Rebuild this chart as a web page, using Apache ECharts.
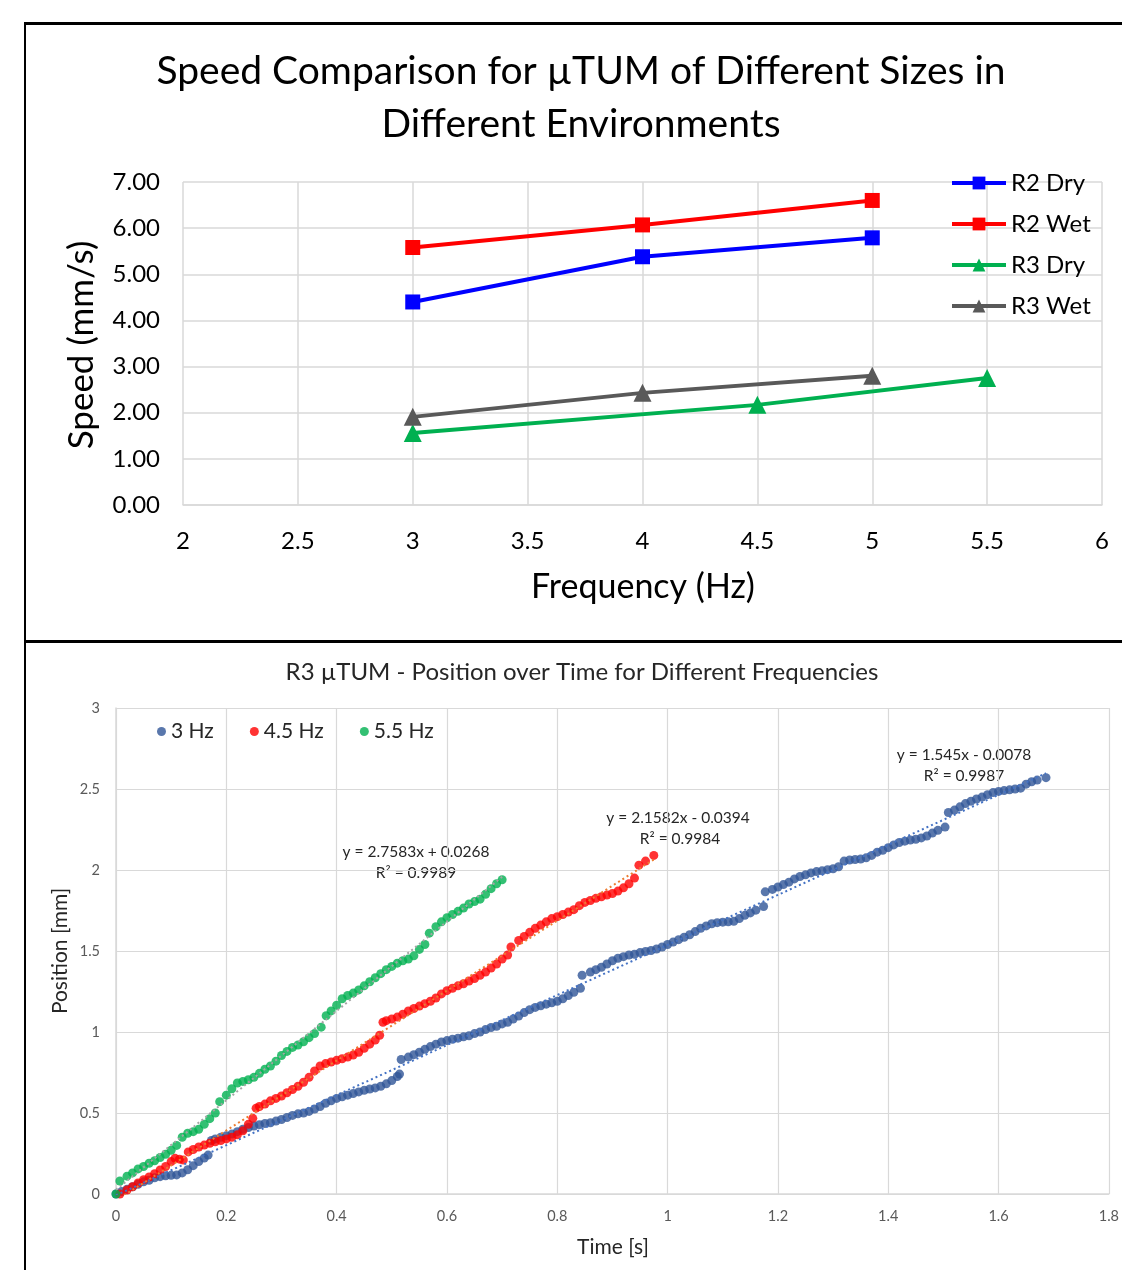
<!DOCTYPE html>
<html><head><meta charset="utf-8">
<script src="https://cdn.jsdelivr.net/npm/echarts@6/dist/echarts.min.js"></script>
<style>html,body{margin:0;padding:0;background:#fff}#c{width:1122px;height:1270px}</style>
</head><body><div id="c"></div><script>
// ---------- Top chart data ----------
const topTitle = 'Speed Comparison for µTUM of Different Sizes in\nDifferent Environments';
const topXName = 'Frequency (Hz)';
const topYName = 'Speed (mm/s)';
const r2Dry = [[3, 4.40], [4, 5.38], [5, 5.79]];
const r2Wet = [[3, 5.58], [4, 6.07], [5, 6.60]];
const r3Dry = [[3, 1.56], [4.5, 2.17], [5.5, 2.75]];
const r3Wet = [[3, 1.91], [4, 2.43], [5, 2.80]];
const topSeriesNames = ['R2 Dry', 'R2 Wet', 'R3 Dry', 'R3 Wet'];

// ---------- Bottom chart data ----------
const botTitle = 'R3 µTUM - Position over Time for Different Frequencies';
const botXName = 'Time [s]';
const botYName = 'Position [mm]';
const botSeriesNames = ['3 Hz', '4.5 Hz', '5.5 Hz'];
const hz3 = [
[0.00,0.00],[0.01,0.015],[0.02,0.03],[0.03,0.045],[0.04,0.06],[0.05,0.075],[0.06,0.085],[0.07,0.10],[0.08,0.107],[0.09,0.112],
[0.10,0.115],[0.11,0.118],[0.12,0.13],[0.13,0.15],[0.14,0.175],[0.15,0.20],[0.16,0.222],[0.167,0.24],
[0.173,0.33],[0.18,0.34],[0.19,0.35],[0.20,0.36],[0.21,0.37],[0.22,0.385],[0.23,0.40],[0.24,0.41],[0.25,0.42],[0.26,0.428],
[0.27,0.435],[0.28,0.44],[0.29,0.45],[0.30,0.46],[0.31,0.472],[0.32,0.485],[0.33,0.495],[0.34,0.50],[0.35,0.51],[0.36,0.525],
[0.37,0.54],[0.38,0.56],[0.39,0.575],[0.40,0.59],[0.41,0.60],[0.42,0.61],[0.43,0.62],[0.44,0.63],[0.45,0.64],[0.46,0.648],
[0.47,0.655],[0.48,0.665],[0.49,0.68],[0.50,0.70],[0.51,0.725],[0.514,0.74],
[0.517,0.83],[0.53,0.845],[0.54,0.86],[0.55,0.875],[0.56,0.893],[0.57,0.91],[0.58,0.925],[0.59,0.938],[0.60,0.947],[0.61,0.955],
[0.62,0.962],[0.63,0.97],[0.64,0.977],[0.65,0.99],[0.66,1.00],[0.67,1.015],[0.68,1.028],[0.69,1.035],[0.70,1.05],[0.71,1.06],
[0.72,1.08],[0.73,1.098],[0.74,1.12],[0.75,1.138],[0.76,1.152],[0.77,1.162],[0.78,1.172],[0.79,1.18],[0.80,1.19],[0.81,1.205],
[0.82,1.225],[0.83,1.245],[0.842,1.27],
[0.845,1.35],[0.86,1.37],[0.87,1.385],[0.88,1.40],[0.89,1.42],[0.90,1.44],[0.91,1.455],[0.92,1.465],[0.93,1.475],[0.94,1.48],
[0.95,1.49],[0.96,1.497],[0.97,1.503],[0.98,1.512],[0.99,1.525],[1.00,1.54],[1.01,1.555],[1.02,1.57],[1.03,1.585],[1.04,1.60],
[1.05,1.62],[1.06,1.64],[1.07,1.655],[1.08,1.668],[1.09,1.675],[1.10,1.678],[1.11,1.68],[1.12,1.683],[1.13,1.70],[1.14,1.72],
[1.15,1.735],[1.16,1.752],[1.174,1.775],
[1.177,1.865],[1.19,1.88],[1.20,1.895],[1.21,1.91],[1.22,1.925],[1.23,1.945],[1.24,1.96],[1.25,1.97],[1.26,1.982],[1.27,1.99],
[1.28,1.995],[1.29,2.002],[1.30,2.008],[1.31,2.02],[1.32,2.055],[1.33,2.062],[1.34,2.065],[1.35,2.068],[1.36,2.075],[1.37,2.09],
[1.38,2.11],[1.39,2.122],[1.40,2.138],[1.41,2.155],[1.42,2.17],[1.43,2.178],[1.44,2.185],[1.45,2.19],[1.46,2.198],[1.47,2.21],
[1.48,2.228],[1.49,2.245],[1.503,2.265],
[1.509,2.355],[1.52,2.37],[1.53,2.39],[1.54,2.41],[1.55,2.425],[1.56,2.438],[1.57,2.45],[1.58,2.465],[1.59,2.478],[1.60,2.485],
[1.61,2.49],[1.62,2.495],[1.63,2.50],[1.64,2.505],[1.65,2.53],[1.66,2.545],[1.67,2.555],[1.686,2.57]
];
const hz45 = [
[0.007,0.00],[0.02,0.025],[0.03,0.045],[0.04,0.068],[0.05,0.088],[0.06,0.105],[0.07,0.125],[0.08,0.148],[0.09,0.17],[0.10,0.20],
[0.107,0.22],[0.115,0.215],[0.122,0.21],[0.131,0.26],[0.14,0.275],[0.15,0.29],[0.16,0.302],[0.17,0.313],[0.18,0.322],[0.19,0.33],
[0.20,0.34],[0.21,0.35],[0.22,0.365],[0.23,0.39],[0.24,0.43],[0.248,0.467],[0.254,0.53],[0.26,0.54],[0.27,0.555],[0.28,0.575],
[0.29,0.59],[0.30,0.605],[0.31,0.625],[0.32,0.645],[0.33,0.665],[0.34,0.69],[0.35,0.72],[0.36,0.76],[0.37,0.79],[0.38,0.805],
[0.39,0.815],[0.40,0.825],[0.41,0.835],[0.42,0.845],[0.43,0.858],[0.44,0.875],[0.45,0.90],[0.46,0.925],[0.47,0.95],[0.478,0.98],
[0.484,1.06],[0.49,1.07],[0.50,1.08],[0.51,1.092],[0.52,1.11],[0.53,1.13],[0.54,1.145],[0.55,1.16],[0.56,1.175],[0.57,1.19],
[0.58,1.21],[0.59,1.235],[0.60,1.255],[0.61,1.27],[0.62,1.285],[0.63,1.298],[0.64,1.315],[0.65,1.33],[0.66,1.35],[0.67,1.37],
[0.68,1.395],[0.69,1.42],[0.70,1.45],[0.71,1.475],[0.716,1.525],[0.73,1.565],[0.74,1.59],[0.75,1.615],[0.76,1.64],[0.77,1.66],
[0.78,1.68],[0.79,1.70],[0.80,1.712],[0.81,1.725],[0.82,1.74],[0.83,1.755],[0.84,1.78],[0.85,1.80],[0.86,1.812],[0.87,1.825],
[0.88,1.835],[0.89,1.845],[0.90,1.855],[0.91,1.87],[0.92,1.89],[0.93,1.915],[0.94,1.95],[0.948,2.03],[0.96,2.055],[0.975,2.09]
];
const hz55 = [
[0.00,0.00],[0.007,0.08],[0.02,0.11],[0.03,0.13],[0.04,0.155],[0.05,0.17],[0.06,0.19],[0.07,0.205],[0.08,0.225],[0.09,0.245],
[0.10,0.27],[0.11,0.30],[0.12,0.35],[0.13,0.375],[0.14,0.385],[0.15,0.40],[0.16,0.43],[0.17,0.465],[0.18,0.50],[0.188,0.57],
[0.20,0.61],[0.21,0.65],[0.22,0.685],[0.23,0.695],[0.24,0.705],[0.25,0.72],[0.26,0.745],[0.27,0.77],[0.28,0.79],[0.29,0.82],
[0.30,0.855],[0.31,0.88],[0.32,0.905],[0.33,0.92],[0.34,0.94],[0.35,0.965],[0.36,0.99],[0.372,1.03],[0.381,1.10],[0.39,1.13],
[0.40,1.165],[0.41,1.205],[0.42,1.225],[0.43,1.24],[0.44,1.26],[0.45,1.285],[0.46,1.31],[0.47,1.335],[0.48,1.36],[0.49,1.385],
[0.50,1.405],[0.51,1.425],[0.52,1.44],[0.53,1.45],[0.54,1.47],[0.55,1.51],[0.56,1.54],[0.568,1.61],[0.58,1.65],[0.59,1.68],
[0.60,1.705],[0.61,1.725],[0.62,1.745],[0.63,1.765],[0.64,1.79],[0.65,1.805],[0.66,1.82],[0.67,1.85],[0.68,1.885],[0.69,1.915],
[0.70,1.94]
];
// Trendline equations as printed on the chart: [slope, intercept, xStart, xEnd]
const trend3 = [1.545, -0.0078, 0.0, 1.686];
const trend45 = [2.1582, -0.0394, 0.007, 0.975];
const trend55 = [2.7583, 0.0268, 0.0, 0.70];
const trendLabels = [
  ['y = 2.7583x + 0.0268', 'R² = 0.9989'],
  ['y = 2.1582x - 0.0394', 'R² = 0.9984'],
  ['y = 1.545x - 0.0078', 'R² = 0.9987']
];

const F = 'Lato, "Open Sans", sans-serif';
function trendPts(t) { return [[t[2], t[0]*t[2]+t[1]], [t[3], t[0]*t[3]+t[1]]]; }

const chart = echarts.init(document.getElementById('c'), null, {renderer: 'canvas'});
const gridColor = '#D9D9D9';
const txt = (x, y, text, size, fill, rot) => ({type: 'text', x: x, y: y, rotation: rot || 0,
  style: {text: text, font: size + 'px ' + F, fill: fill, textAlign: 'center', textVerticalAlign: 'middle'}});

const option = {
  animation: false,
  backgroundColor: '#fff',
  textStyle: {fontFamily: F},
  grid: [
    {left: 183, right: 20, top: 182, height: 323, containLabel: false},
    {left: 116, right: 11, top: 708, height: 486, containLabel: false}
  ],
  xAxis: [
    {gridIndex: 0, type: 'value', min: 2, max: 6, interval: 0.5,
     axisLine: {show: true, lineStyle: {color: gridColor, width: 1.5}}, axisTick: {show: false},
     splitLine: {show: true, lineStyle: {color: gridColor, width: 1.5}},
     axisLabel: {color: '#000', fontSize: 24, fontFamily: F, margin: 24, formatter: v => String(v)}},
    {gridIndex: 1, type: 'value', min: 0, max: 1.8, interval: 0.2,
     axisLine: {show: true, lineStyle: {color: gridColor, width: 1.5}}, axisTick: {show: false},
     splitLine: {show: true, lineStyle: {color: gridColor, width: 1.2}},
     axisLabel: {color: '#595959', fontSize: 14.5, fontFamily: F, margin: 15, formatter: v => String(Math.round(v*10)/10)}}
  ],
  yAxis: [
    {gridIndex: 0, type: 'value', min: 0, max: 7, interval: 1,
     axisLine: {show: false}, axisTick: {show: false},
     splitLine: {show: true, lineStyle: {color: gridColor, width: 1.5}},
     axisLabel: {color: '#000', fontSize: 24, fontFamily: F, margin: 23, formatter: v => v.toFixed(2)}},
    {gridIndex: 1, type: 'value', min: 0, max: 3, interval: 0.5,
     axisLine: {show: true, lineStyle: {color: gridColor, width: 1.5}}, axisTick: {show: false},
     splitLine: {show: true, lineStyle: {color: gridColor, width: 1.2}},
     axisLabel: {color: '#595959', fontSize: 14.5, fontFamily: F, margin: 16, formatter: v => String(v)}}
  ],
  legend: [
    {data: topSeriesNames, orient: 'vertical', left: 950, top: 171, padding: 0, itemWidth: 54, itemHeight: 16, itemGap: 17,
     lineStyle: {width: 4}, textStyle: {fontSize: 24, color: '#000', fontFamily: F}},
    {data: botSeriesNames, orient: 'horizontal', left: 152, top: 716, itemWidth: 9, itemHeight: 9, itemGap: 36,
     icon: 'circle', textStyle: {fontSize: 21, color: '#262626', fontFamily: F}}
  ],
  series: [
    {name: 'R2 Dry', type: 'line', xAxisIndex: 0, yAxisIndex: 0, data: r2Dry, symbol: 'rect', symbolSize: 15,
     lineStyle: {color: '#0000FF', width: 4}, itemStyle: {color: '#0000FF'}},
    {name: 'R2 Wet', type: 'line', xAxisIndex: 0, yAxisIndex: 0, data: r2Wet, symbol: 'rect', symbolSize: 15,
     lineStyle: {color: '#FF0000', width: 4}, itemStyle: {color: '#FF0000'}},
    {name: 'R3 Dry', type: 'line', xAxisIndex: 0, yAxisIndex: 0, data: r3Dry, symbol: 'triangle', symbolSize: 18,
     lineStyle: {color: '#00B050', width: 4}, itemStyle: {color: '#00B050'}},
    {name: 'R3 Wet', type: 'line', xAxisIndex: 0, yAxisIndex: 0, data: r3Wet, symbol: 'triangle', symbolSize: 18,
     lineStyle: {color: '#595959', width: 4}, itemStyle: {color: '#595959'}},

    {name: '3 Hz', type: 'scatter', xAxisIndex: 1, yAxisIndex: 1, data: hz3, symbolSize: 9,
     itemStyle: {color: '#2F5597'}},
    {name: '4.5 Hz', type: 'scatter', xAxisIndex: 1, yAxisIndex: 1, data: hz45, symbolSize: 9,
     itemStyle: {color: '#FF0000'}},
    {name: '5.5 Hz', type: 'scatter', xAxisIndex: 1, yAxisIndex: 1, data: hz55, symbolSize: 9,
     itemStyle: {color: '#00B050'}},
    {name: 'trend3', type: 'line', xAxisIndex: 1, yAxisIndex: 1, data: trendPts(trend3), showSymbol: false, z: 5,
     lineStyle: {color: '#4472C4', width: 2, type: [2, 3]}, clip: true, silent: true},
    {name: 'trend45', type: 'line', xAxisIndex: 1, yAxisIndex: 1, data: trendPts(trend45), showSymbol: false, z: 5,
     lineStyle: {color: '#ED7D31', width: 2, type: [2, 3]}, clip: true, silent: true},
    {name: 'trend55', type: 'line', xAxisIndex: 1, yAxisIndex: 1, data: trendPts(trend55), showSymbol: false, z: 5,
     lineStyle: {color: '#A5A5A5', width: 2, type: [2, 3]}, clip: true, silent: true}
  ],
  graphic: [
    // frames
    {type: 'rect', shape: {x: 24, y: 22, width: 1200, height: 3}, style: {fill: '#000'}, z: 100},
    {type: 'rect', shape: {x: 24, y: 640, width: 1200, height: 3}, style: {fill: '#000'}, z: 100},
    {type: 'rect', shape: {x: 24, y: 22, width: 2, height: 1260}, style: {fill: '#000'}, z: 100},
    // top title and axis names
    txt(581, 71, topTitle.split('\n')[0], 39, '#000'),
    txt(581, 124, topTitle.split('\n')[1], 39, '#000'),
    txt(643, 587, topXName, 34, '#000'),
    txt(82, 345, topYName, 35, '#000', Math.PI / 2),
    // bottom title and axis names
    txt(582, 672, botTitle, 24, '#262626'),
    txt(613, 1247, botXName, 21, '#262626'),
    txt(60, 951, botYName, 21, '#262626', Math.PI / 2),
    // trendline equations
    txt(416, 852, trendLabels[0][0], 15.5, '#262626'),
    txt(416, 873, trendLabels[0][1], 15.5, '#262626'),
    txt(678, 818, trendLabels[1][0], 15.5, '#262626'),
    txt(680, 839, trendLabels[1][1], 15.5, '#262626'),
    txt(964, 755, trendLabels[2][0], 15.5, '#262626'),
    txt(964, 776, trendLabels[2][1], 15.5, '#262626')
  ]
};
chart.setOption(option);
</script></body></html>
